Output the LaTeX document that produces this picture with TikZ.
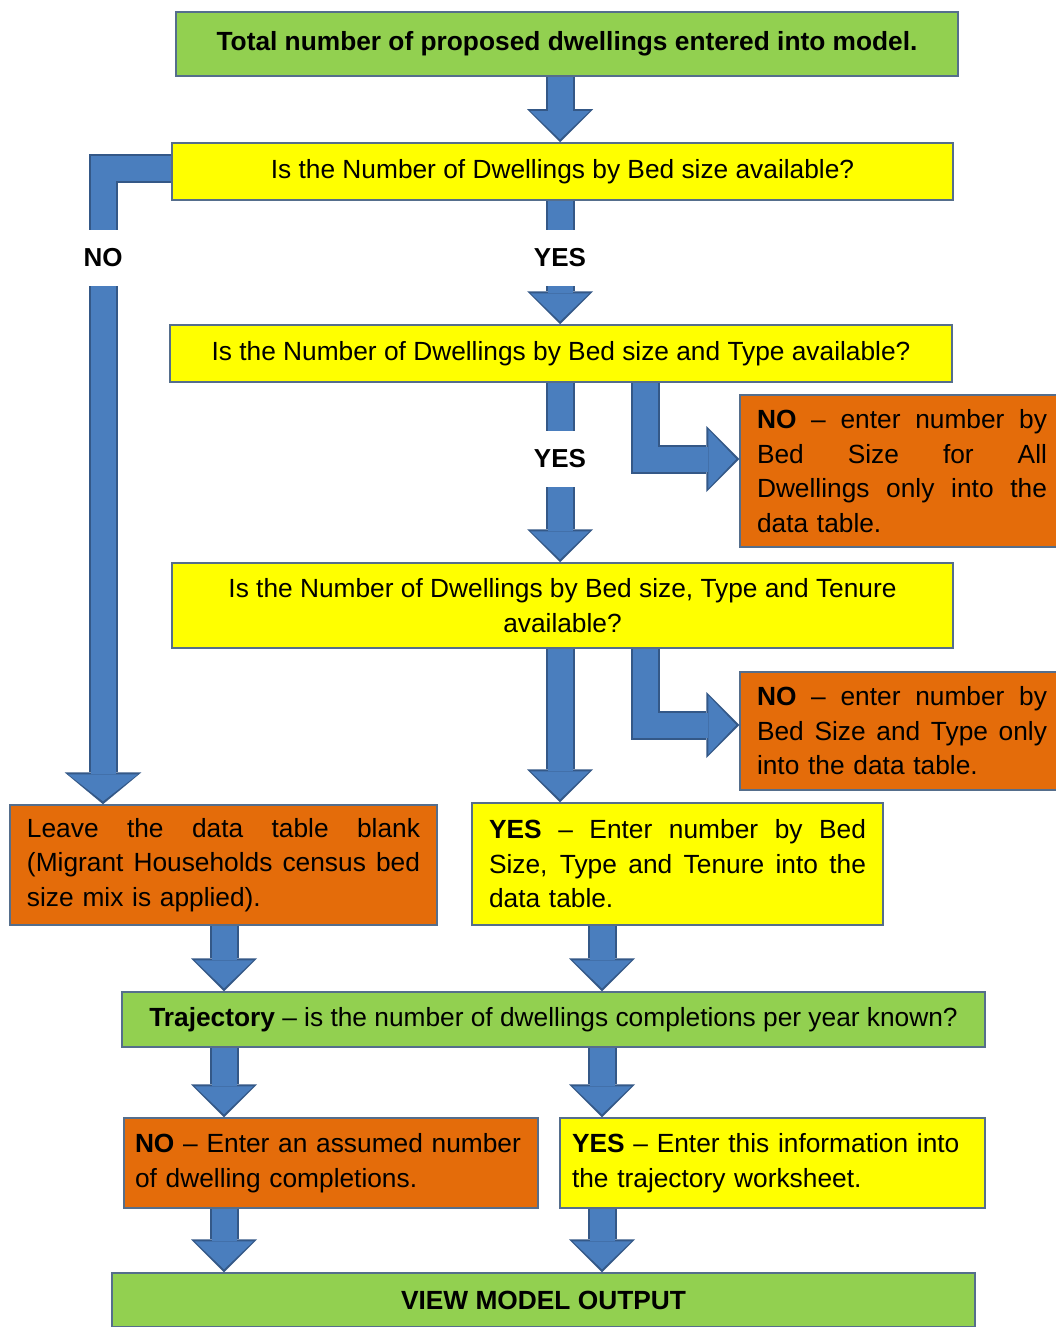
\documentclass[tikz,border=0pt]{standalone}
\usepackage{fontspec}
\setmainfont{Liberation Sans}
\usetikzlibrary{arrows.meta}

\definecolor{boxgreen}{RGB}{146,208,80}
\definecolor{boxyellow}{RGB}{255,255,0}
\definecolor{boxorange}{RGB}{228,108,10}
\definecolor{boxline}{RGB}{85,110,140}
\definecolor{arrowblue}{RGB}{74,126,190}
\definecolor{arrowedge}{RGB}{52,88,135}

% stretch one line of a box to the given width
\newcommand{\spread}[2]{\leavevmode\hbox to #1{\spaceskip=\fontdimen2\font plus 1fil\relax #2}}

\begin{document}
\begin{tikzpicture} [
        x=1pt, y=-1pt,
        every node/.style={font=\fontsize{26.3}{34.5}\selectfont},
        box/.style={draw=boxline, line width=1.5pt, inner sep=0pt, align=center},
        green box/.style={box, fill=boxgreen},
        yellow box/.style={box, fill=boxyellow},
        orange box/.style={box, fill=boxorange},
        text box/.style={inner xsep=17pt, inner ysep=0pt, align=left},
        flow/.style={draw=arrowblue, line width=25pt, shorten >=3pt,
            -{Triangle[width=59pt,length=28pt,line width=0pt]},
            preaction={draw=arrowedge, line width=29pt, shorten >=0pt,
                -{Triangle[width=66pt,length=33pt,line width=0pt]}}},
        wide flow/.style={draw=arrowblue, line width=25pt, shorten >=3pt,
            -{Triangle[width=70pt,length=27pt,line width=0pt]},
            preaction={draw=arrowedge, line width=29pt, shorten >=0pt,
                -{Triangle[width=77pt,length=32pt,line width=0pt]}}},
        gap/.style={fill=white, inner sep=0pt, minimum width=50pt, minimum height=56pt,
            font=\bfseries\fontsize{26}{30}\selectfont},
    ]
    \useasboundingbox (0,0) rectangle (1056,1327);

    % questions down the middle
    \node[green box, minimum width=782pt, minimum height=64pt] (top) at (567,44)
        {\textbf{Total number of proposed dwellings entered into model.}};
    \node[yellow box, minimum width=781pt, minimum height=57pt] (bed) at (562.5,171.5)
        {Is the Number of Dwellings by Bed size available?};
    \node[yellow box, minimum width=782pt, minimum height=57pt] (type) at (561,353.5)
        {Is the Number of Dwellings by Bed size and Type available?};
    \node[yellow box, minimum width=781pt, minimum height=85pt] (tenure) at (562.5,605.5)
        {Is the Number of Dwellings by Bed size, Type and Tenure\\available?};

    % answers
    \node[orange box, text box, text width=290pt, minimum height=152pt] (nobed) at (902,471)
        {\spread{290pt}{\textbf{NO} – enter number by}\\\spread{290pt}{Bed Size for All}\\
         \spread{290pt}{Dwellings only into the}\\data table.};
    \node[orange box, text box, text width=290pt, minimum height=118pt] (notype) at (902,731)
        {\spread{290pt}{\textbf{NO} – enter number by}\\\spread{290pt}{Bed Size and Type only}\\
         into the data table.};
    \node[orange box, text box, text width=393pt, minimum height=120pt] (blank) at (223.5,865)
        {\spread{393pt}{Leave the data table blank}\\\spread{393pt}{(Migrant Households census bed}\\
         size mix is applied).};
    \node[yellow box, text box, text width=377pt, minimum height=122pt] (yestenure) at (677.5,864)
        {\spread{377pt}{\textbf{YES} – Enter number by Bed}\\\spread{377pt}{Size, Type and Tenure into the}\\
         data table.};

    % trajectory
    \node[green box, minimum width=863pt, minimum height=55pt] (traj) at (553.5,1019.5)
        {\textbf{Trajectory} – is the number of dwellings completions per year known?};
    \node[orange box, text box, inner xsep=11pt, text width=392pt, minimum height=90pt] (assumed) at (331,1163)
        {\textbf{NO} – Enter an assumed number\\of dwelling completions.};
    \node[yellow box, text box, inner xsep=12pt, text width=401pt, minimum height=90pt] (known) at (772.5,1163)
        {\textbf{YES} – Enter this information into\\the trajectory worksheet.};
    \node[green box, minimum width=863pt, minimum height=54pt] (output) at (543.5,1300)
        {\textbf{VIEW MODEL OUTPUT}};

    % columns the arrows run in
    \coordinate (colM) at (560,0);
    \coordinate (colL) at (224,0);
    \coordinate (colR) at (602,0);
    \coordinate (colE) at (645,0);
    \coordinate (colN) at (103,0);

    % straight arrows
    \foreach \from/\to/\col in {
            top/bed/colM, bed/type/colM, type/tenure/colM, tenure/yestenure/colM,
            blank/traj/colL, yestenure/traj/colR, traj/assumed/colL, traj/known/colR,
            assumed/output/colL, known/output/colR}
        \draw[flow] (\from.south -| \col) -- (\to.north -| \col);
    % bent arrows
    \draw[flow] (type.south -| colE) |- ([yshift=12pt]nobed.west);
    \draw[flow] (tenure.south -| colE) |- ([yshift=6pt]notype.west);
    \draw[wide flow] ([yshift=3pt]bed.west) -| (blank.north -| colN);

    % labels cut into the arrows
    \node[gap] (no) at (103,258) {NO};
    \node[gap] (yes1) at (560,258) {YES};
    \node[gap] (yes2) at (560,459) {YES};
\end{tikzpicture}
\end{document}
